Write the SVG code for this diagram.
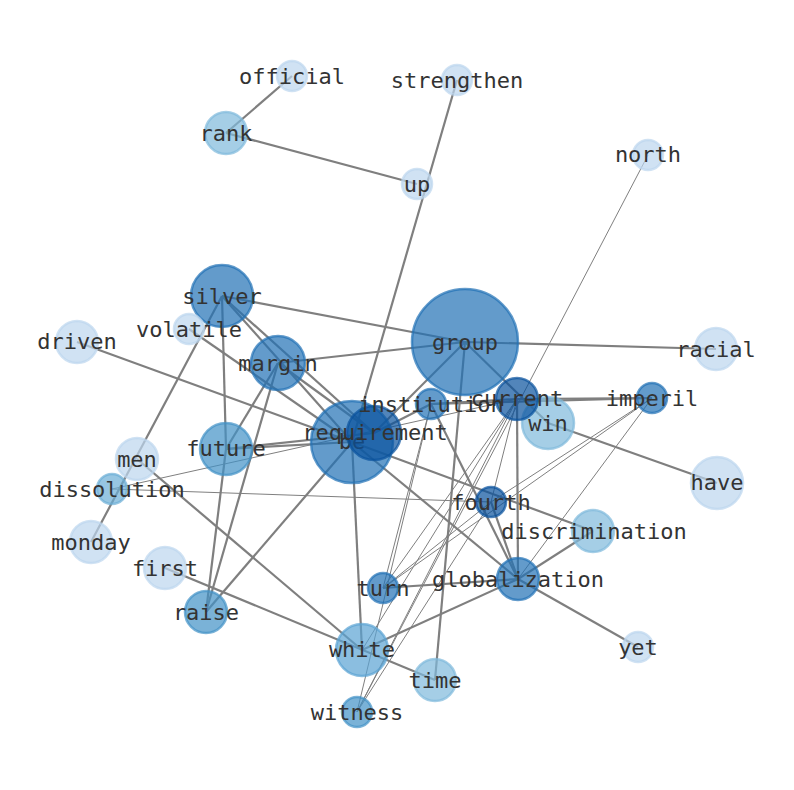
<svg xmlns="http://www.w3.org/2000/svg" width="794" height="790" viewBox="0 0 794 790">
<style>
.e{stroke:#7f7f7f;stroke-width:2.2;fill:none}
.n{stroke:#7f7f7f;stroke-width:1;fill:none}
circle{stroke-width:2.5;fill-opacity:0.7;stroke-opacity:0.7}
.c1{fill:#08519c;stroke:#08519c}
.c2{fill:#2171b5;stroke:#2171b5}
.c3{fill:#4292c6;stroke:#4292c6}
.c4{fill:#5aa3d3;stroke:#5aa3d3}
.c5{fill:#6baed6;stroke:#6baed6}
.c6{fill:#7fb9dc;stroke:#7fb9dc}
.c7{fill:#bcd6ee;stroke:#bcd6ee}
text{font-family:"DejaVu Sans Mono","Liberation Mono",monospace;font-size:22px;fill:#333;text-anchor:middle;dominant-baseline:central}
</style>
<rect width="794" height="790" fill="#fff"/>
<g id="edges">
<line class="e" x1="292" y1="76" x2="226" y2="133"/>
<line class="e" x1="226" y1="133" x2="417" y2="184"/>
<line class="e" x1="457" y1="80" x2="352" y2="442"/>
<line class="e" x1="222" y1="296" x2="465" y2="342"/>
<line class="e" x1="222" y1="296" x2="374" y2="433"/>
<line class="e" x1="222" y1="296" x2="352" y2="442"/>
<line class="e" x1="222" y1="296" x2="226" y2="449"/>
<line class="e" x1="226" y1="449" x2="206" y2="612"/>
<line class="e" x1="222" y1="296" x2="91" y2="542"/>
<line class="e" x1="189" y1="329" x2="352" y2="442"/>
<line class="e" x1="77" y1="342" x2="352" y2="442"/>
<line class="e" x1="278" y1="363" x2="465" y2="342"/>
<line class="e" x1="278" y1="363" x2="226" y2="449"/>
<line class="e" x1="278" y1="363" x2="206" y2="612"/>
<line class="e" x1="278" y1="363" x2="374" y2="433"/>
<line class="e" x1="226" y1="449" x2="352" y2="442"/>
<line class="e" x1="226" y1="449" x2="374" y2="433"/>
<line class="e" x1="465" y1="342" x2="716" y2="349"/>
<line class="e" x1="465" y1="342" x2="374" y2="433"/>
<line class="e" x1="465" y1="342" x2="548" y2="423"/>
<line class="e" x1="465" y1="342" x2="435" y2="680"/>
<line class="e" x1="517" y1="399" x2="518" y2="579"/>
<line class="e" x1="431" y1="404" x2="517" y2="399"/>
<line class="e" x1="431" y1="404" x2="652" y2="398"/>
<line class="e" x1="517" y1="399" x2="652" y2="398"/>
<line class="e" x1="374" y1="433" x2="431" y2="404"/>
<line class="e" x1="548" y1="423" x2="717" y2="483"/>
<line class="e" x1="352" y1="442" x2="593" y2="531"/>
<line class="e" x1="352" y1="442" x2="518" y2="579"/>
<line class="e" x1="352" y1="442" x2="362" y2="650"/>
<line class="e" x1="206" y1="612" x2="352" y2="442"/>
<line class="e" x1="137" y1="459" x2="362" y2="650"/>
<line class="e" x1="165" y1="568" x2="435" y2="680"/>
<line class="e" x1="362" y1="650" x2="518" y2="579"/>
<line class="e" x1="383" y1="588" x2="518" y2="579"/>
<line class="e" x1="431" y1="404" x2="518" y2="579"/>
<line class="e" x1="491" y1="502" x2="518" y2="579"/>
<line class="e" x1="518" y1="579" x2="593" y2="531"/>
<line class="e" x1="518" y1="579" x2="638" y2="647"/>
<line class="n" x1="648" y1="155" x2="357" y2="712"/>
<line class="n" x1="112" y1="489" x2="491" y2="502"/>
<line class="n" x1="112" y1="489" x2="517" y2="399"/>
<line class="n" x1="383" y1="588" x2="431" y2="404"/>
<line class="n" x1="357" y1="712" x2="431" y2="404"/>
<line class="n" x1="383" y1="588" x2="517" y2="399"/>
<line class="n" x1="362" y1="650" x2="517" y2="399"/>
<line class="n" x1="357" y1="712" x2="517" y2="399"/>
<line class="n" x1="491" y1="502" x2="517" y2="399"/>
<line class="n" x1="383" y1="588" x2="491" y2="502"/>
<line class="n" x1="357" y1="712" x2="491" y2="502"/>
<line class="n" x1="383" y1="588" x2="652" y2="398"/>
<line class="n" x1="491" y1="502" x2="652" y2="398"/>
<line class="n" x1="652" y1="398" x2="518" y2="579"/>
</g>
<g id="group"><circle class="c2" cx="465" cy="342" r="53"/><text x="465" y="342">group</text></g>
<g id="silver"><circle class="c2" cx="222" cy="296" r="31"/><text x="222" y="296">silver</text></g>
<g id="volatile"><circle class="c7" cx="189" cy="329" r="15"/><text x="189" y="329">volatile</text></g>
<g id="margin"><circle class="c2" cx="278" cy="363" r="27"/><text x="278" y="363">margin</text></g>
<g id="be"><circle class="c2" cx="352" cy="442" r="41"/><text x="352" y="441">be</text></g>
<g id="requirement"><circle class="c1" cx="374" cy="433" r="27"/><text x="375" y="432">requirement</text></g>
<g id="win"><circle class="c6" cx="548" cy="423" r="26"/><text x="548" y="423">win</text></g>
<g id="current"><circle class="c1" cx="517" cy="399" r="21"/><text x="517" y="398">current</text></g>
<g id="institution"><circle class="c2" cx="431" cy="404" r="15"/><text x="431" y="404">institution</text></g>
<g id="official"><circle class="c7" cx="292" cy="76" r="15"/><text x="292" y="76">official</text></g>
<g id="strengthen"><circle class="c7" cx="457" cy="80" r="15"/><text x="457" y="80">strengthen</text></g>
<g id="rank"><circle class="c6" cx="226" cy="133" r="21"/><text x="226" y="133">rank</text></g>
<g id="up"><circle class="c7" cx="417" cy="184" r="15"/><text x="417" y="184">up</text></g>
<g id="north"><circle class="c7" cx="648" cy="155" r="15"/><text x="648" y="154">north</text></g>
<g id="driven"><circle class="c7" cx="77" cy="342" r="21"/><text x="77" y="341">driven</text></g>
<g id="racial"><circle class="c7" cx="716" cy="349" r="21"/><text x="716" y="349">racial</text></g>
<g id="imperil"><circle class="c2" cx="652" cy="398" r="15"/><text x="652" y="398">imperil</text></g>
<g id="future"><circle class="c3" cx="226" cy="449" r="26"/><text x="226" y="448">future</text></g>
<g id="have"><circle class="c7" cx="717" cy="483" r="26"/><text x="717" y="482">have</text></g>
<g id="men"><circle class="c7" cx="137" cy="459" r="21"/><text x="137" y="459">men</text></g>
<g id="dissolution"><circle class="c5" cx="112" cy="489" r="15"/><text x="112" y="489">dissolution</text></g>
<g id="fourth"><circle class="c1" cx="491" cy="502" r="15"/><text x="491" y="502">fourth</text></g>
<g id="discrimination"><circle class="c6" cx="593" cy="531" r="21"/><text x="594" y="531">discrimination</text></g>
<g id="monday"><circle class="c7" cx="91" cy="542" r="21"/><text x="91" y="542">monday</text></g>
<g id="first"><circle class="c7" cx="165" cy="568" r="21"/><text x="165" y="568">first</text></g>
<g id="turn"><circle class="c2" cx="383" cy="588" r="15"/><text x="383" y="588">turn</text></g>
<g id="globalization"><circle class="c2" cx="518" cy="579" r="21"/><text x="518" y="579">globalization</text></g>
<g id="raise"><circle class="c3" cx="206" cy="612" r="21"/><text x="206" y="612">raise</text></g>
<g id="yet"><circle class="c7" cx="638" cy="647" r="15"/><text x="638" y="647">yet</text></g>
<g id="white"><circle class="c4" cx="362" cy="650" r="26"/><text x="362" y="649">white</text></g>
<g id="time"><circle class="c6" cx="435" cy="680" r="21"/><text x="435" y="680">time</text></g>
<g id="witness"><circle class="c3" cx="357" cy="712" r="15"/><text x="357" y="712">witness</text></g>
</svg>
